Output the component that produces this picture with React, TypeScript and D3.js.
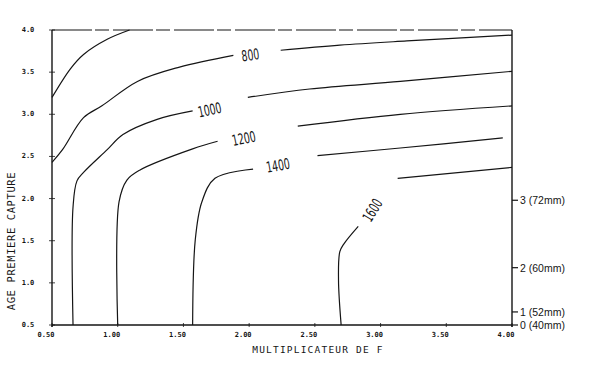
import React from "react";
import * as d3 from "d3";

// ---- data ----
const xTicks = [0.5, 1.0, 1.5, 2.0, 2.5, 3.0, 3.5, 4.0];
const yTicks = [0.5, 1.0, 1.5, 2.0, 2.5, 3.0, 3.5, 4.0];
const meshLabels = ["0 (40mm)", "1 (52mm)", "2 (60mm)", "3 (72mm)"];
const meshAges = [0.5, 0.655, 1.18, 1.98];

// contour lines: each is a list of segments (broken at the label)
const c600 = [[[0.5, 3.2], [0.64, 3.54], [0.74, 3.71], [0.92, 3.89], [1.09, 4.0]]];
const c800 = [
  [[0.5, 2.43], [0.58, 2.58], [0.74, 2.96], [0.88, 3.1], [1.15, 3.39], [1.47, 3.56], [1.88, 3.7]],
  [[2.24, 3.76], [2.69, 3.82], [3.2, 3.87], [4.0, 3.94]],
];
const c1000 = [
  [[0.66, 0.5], [0.66, 1.9], [0.69, 2.21], [0.74, 2.31], [0.92, 2.58], [1.04, 2.76], [1.3, 2.94], [1.57, 3.04]],
  [[1.99, 3.2], [2.46, 3.3], [3.15, 3.39], [4.0, 3.51]],
];
const c1200 = [
  [[1.0, 0.5], [1.01, 1.96], [1.07, 2.22], [1.17, 2.34], [1.57, 2.59], [1.76, 2.68]],
  [[2.37, 2.86], [3.15, 3.0], [4.0, 3.1]],
];
const c1400 = [
  [[1.57, 0.5], [1.59, 1.51], [1.64, 1.96], [1.74, 2.24], [2.03, 2.35]],
  [[2.52, 2.51], [3.15, 2.6], [3.93, 2.72]],
];
const c1600 = [
  [[2.7, 0.5], [2.68, 1.03], [2.69, 1.37], [2.72, 1.46], [2.83, 1.67]],
  [[3.13, 2.24], [4.0, 2.37]],
];
const contours = [c600, c800, c1000, c1200, c1400, c1600];

const labelText = ["800", "1000", "1200", "1400", "1600"];
const labelX = [2.01, 1.7, 1.96, 2.22, 2.94];
const labelY = [3.7, 3.05, 2.71, 2.39, 1.86];
const labelAngle = [-8, -12, -12, -10, -58];

const W = 600;
const H = 373;
const left = 52;
const right = 512;
const top = 30;
const bottom = 325;

export default function App() {
  const x = d3.scaleLinear().domain([0.5, 4.0]).range([left, right]);
  const y = d3.scaleLinear().domain([0.5, 4.0]).range([bottom, top]);
  const line = d3
    .line<number[]>()
    .x((d) => x(d[0]))
    .y((d) => y(d[1]))
    .curve(d3.curveCatmullRom.alpha(0.5));

  const ink = "#151515";
  const tickFont = "'DejaVu Sans Mono', monospace";

  return (
    <svg
      width={W}
      height={H}
      style={{ position: "absolute", left: 0, top: 0, background: "#fff" }}
    >
      {/* frame */}
      <line x1={x(0.5)} x2={x(4.0)} y1={y(4.0)} y2={y(4.0)} stroke={ink} strokeWidth={1.2} strokeDasharray="40 3 14 4" />
      <line x1={x(0.5)} x2={x(0.5)} y1={y(4.0)} y2={y(0.5) + 2} stroke={ink} strokeWidth={1.4} />
      <line x1={x(0.5)} x2={x(4.0)} y1={y(0.5)} y2={y(0.5)} stroke={ink} strokeWidth={1.4} />
      <line x1={x(4.0)} x2={x(4.0)} y1={y(4.0)} y2={y(0.5) + 2} stroke={ink} strokeWidth={1.4} />

      {/* left ticks */}
      {yTicks.map((t) => (
        <g key={"y" + t}>
          <line x1={x(0.5) - 3} x2={x(0.5) + 3} y1={y(t)} y2={y(t)} stroke={ink} strokeWidth={0.8} />
          <text
            x={x(0.5) - 24}
            y={y(t) + 2}
            fontSize={7}
            fontWeight="bold"
            fontFamily={tickFont}
            textAnchor="middle"
            fill={ink}
          >
            {t.toFixed(1)}
          </text>
        </g>
      ))}

      {/* bottom ticks */}
      {xTicks.map((t) => (
        <g key={"x" + t}>
          <line x1={x(t)} x2={x(t)} y1={y(0.5) - 2} y2={y(0.5) + 2} stroke={ink} strokeWidth={0.8} />
          <text
            x={x(t) - 6}
            y={y(0.5) + 12}
            fontSize={7}
            fontWeight="bold"
            fontFamily={tickFont}
            textAnchor="middle"
            fill={ink}
          >
            {t.toFixed(2)}
          </text>
        </g>
      ))}

      {/* right mesh axis */}
      {meshAges.map((a, i) => (
        <g key={"m" + i}>
          <line x1={x(4.0)} x2={x(4.0) + 6} y1={y(a)} y2={y(a)} stroke={ink} strokeWidth={1.2} />
          <text
            x={x(4.0) + 8}
            y={y(a) + 4}
            fontSize={10.5}
            fontFamily="'Liberation Sans', Arial, sans-serif"
            fill={ink}
          >
            {meshLabels[i]}
          </text>
        </g>
      ))}

      {/* contours */}
      {contours.map((c, i) =>
        c.map((seg, j) => (
          <path key={"c" + i + "-" + j} d={line(seg) || ""} fill="none" stroke={ink} strokeWidth={1.2} />
        ))
      )}

      {/* contour labels */}
      {labelText.map((t, i) => (
        <g
          key={"l" + i}
          transform={`translate(${x(labelX[i])},${y(labelY[i])}) rotate(${labelAngle[i]}) scale(0.62,1)`}
        >
          <text
            x={0}
            y={5}
            fontSize={15}
            fontFamily="'DejaVu Sans', sans-serif"
            textAnchor="middle"
            fill={ink}
          >
            {t}
          </text>
        </g>
      ))}

      {/* axis titles */}
      <g transform={`translate(15,${241}) rotate(-90)`}>
        <text x={0} y={0} fontSize={10.5} letterSpacing={0.6} fontFamily={tickFont} textAnchor="middle" fill={ink}>
          AGE PREMIERE CAPTURE
        </text>
      </g>
      <g transform={`translate(318,353)`}>
        <text x={0} y={0} fontSize={9.5} letterSpacing={1.2} fontFamily={tickFont} textAnchor="middle" fill={ink}>
          MULTIPLICATEUR DE F
        </text>
      </g>
    </svg>
  );
}
